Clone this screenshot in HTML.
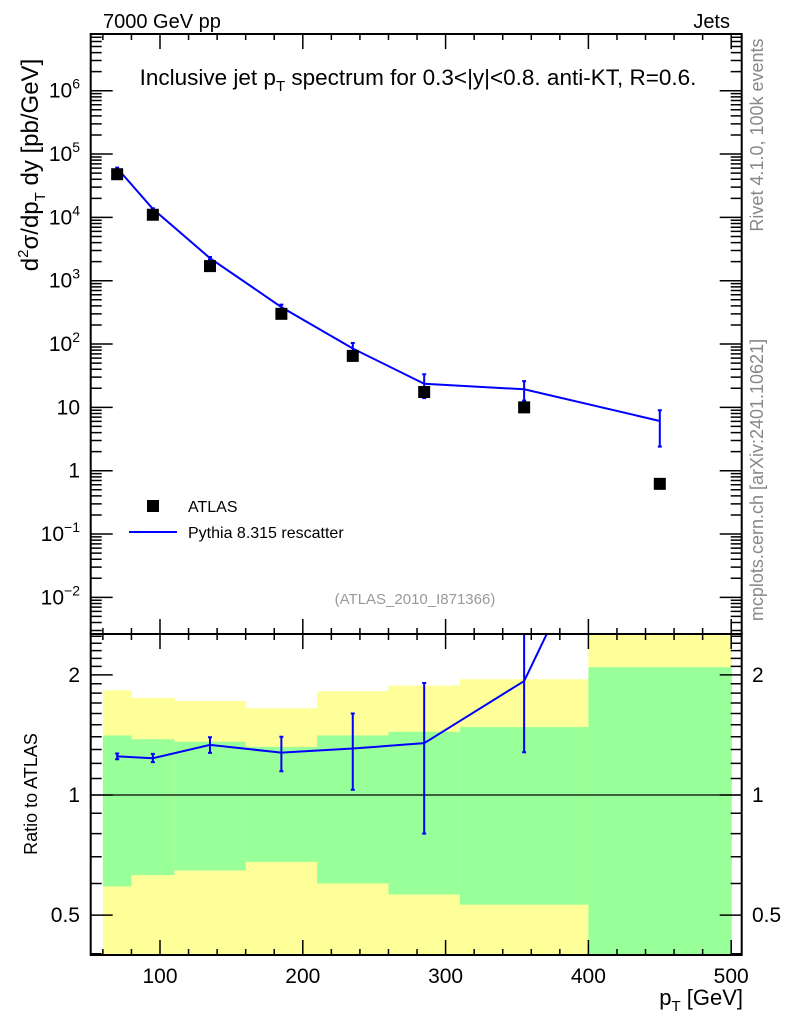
<!DOCTYPE html>
<html><head><meta charset="utf-8"><style>
body{margin:0;background:#fff}
svg{display:block;font-family:"Liberation Sans",Arial,sans-serif}
</style></head><body>
<svg id="c" width="786" height="1024" viewBox="0 0 786 1024" xmlns="http://www.w3.org/2000/svg" xml:space="preserve">
<g id="bands"></g>
<g id="marks"></g>
<g id="axes"></g>
<text x="103" y="28" font-size="20">7000 GeV pp</text>
<text x="730" y="28" font-size="20" text-anchor="end">Jets</text>
<text x="418" y="85" font-size="22.5" text-anchor="middle">Inclusive jet p<tspan font-size="15" dy="6">T</tspan><tspan dy="-6"> spectrum for 0.3&lt;|y|&lt;0.8.  anti-KT, R=0.6.</tspan></text>
<text transform="translate(763,135) rotate(-90)" font-size="18" fill="#888" text-anchor="middle">Rivet 4.1.0,  100k events</text>
<text transform="translate(763,480) rotate(-90)" font-size="18" fill="#888" text-anchor="middle">mcplots.cern.ch [arXiv:2401.10621]</text>
<text x="415" y="604" font-size="15" fill="#999" text-anchor="middle">(ATLAS_2010_I871366)</text>
<text transform="translate(38,165) rotate(-90)" font-size="24" text-anchor="middle">d<tspan font-size="15" dy="-10">2</tspan><tspan dy="10">σ/dp</tspan><tspan font-size="15" dy="7">T</tspan><tspan dy="-7"> dy [pb/GeV]</tspan></text>
<text transform="translate(37,794) rotate(-90)" font-size="18" text-anchor="middle">Ratio to ATLAS</text>
<text x="743" y="1005" font-size="22" text-anchor="end">p<tspan font-size="15" dy="6">T</tspan><tspan dy="-6"> [GeV]</tspan></text>
<g>
<rect x="147" y="500" width="12" height="12" fill="#000"/>
<text x="188" y="512" font-size="16">ATLAS</text>
<line x1="129" y1="532" x2="177" y2="532" stroke="#00f" stroke-width="2"/>
<text x="188" y="538" font-size="16">Pythia 8.315 rescatter</text>
</g>
</svg>
<script>
const binCenters=[70,95,135,185,235,285,355,450];
const atlas=[4.8e4,1.1e4,1.7e3,300,65,17.5,10,0.62];
const pythia=[6.0e4,1.36e4,2.27e3,383,85,23.6,19.3,6.1];
const pythiaLo=[5.9e4,1.33e4,2168,344,67,14,12.8,2.4];
const pythiaHi=[6.1e4,1.395e4,2372,420,104,33.4,26,9];
const bandEdges=[60,80,110,160,210,260,310,400,500];
const yellowHi=[1.83,1.75,1.72,1.65,1.82,1.88,1.95,3.0];
const greenHi=[1.41,1.38,1.36,1.32,1.41,1.44,1.48,2.09];
const greenLo=[0.59,0.63,0.647,0.68,0.60,0.563,0.531,0.3];
const yellowLo=[0.3,0.3,0.3,0.3,0.3,0.3,0.3,0.3];
const xTicks=[100,200,300,400,500];
const mainYTicks=[-2,-1,0,1,2,3,4,5,6];
const ratioTicks=[0.5,1,2];

const NS="http://www.w3.org/2000/svg";
const L=90.7,R=741.7,T=34,MB=634,RB=955;
const X=v=>160+(v-100)*1.428;
const Y=v=>470.7-63.33*Math.log10(v);
const RY=r=>Math.min(RB,Math.max(MB,795-399*Math.log10(r)));
function mk(p,tag,a){const e=document.createElementNS(NS,tag);for(const k in a)e.setAttribute(k,a[k]);p.appendChild(e);return e;}
const bands=document.getElementById('bands'),marks=document.getElementById('marks'),axes=document.getElementById('axes');

for(let i=0;i<bandEdges.length-1;i++){
  const x1=X(bandEdges[i]),x2=X(bandEdges[i+1]);
  let r=mk(bands,'rect',{x:x1,y:RY(yellowHi[i]),width:x2-x1+0.5,height:RY(yellowLo[i])-RY(yellowHi[i]),fill:'#ffff99'});
  
  
  r=mk(bands,'rect',{x:x1,y:RY(greenHi[i]),width:x2-x1+0.5,height:RY(greenLo[i])-RY(greenHi[i]),fill:'#99ff99'});
  
  
}
let ref=mk(marks,'line',{x1:L,x2:R,y1:RY(1),y2:RY(1),stroke:'#000','stroke-width':1.3});



let pts=binCenters.map((c,i)=>X(c)+','+Y(pythia[i])).join(' ');
let pl=mk(marks,'polyline',{points:pts,fill:'none',stroke:'#00f','stroke-width':2});


binCenters.forEach((c,i)=>{
  const x=X(c);
  let e=mk(marks,'path',{d:`M${x},${Y(pythiaLo[i])}V${Y(pythiaHi[i])}M${x-2},${Y(pythiaLo[i])}h4M${x-2},${Y(pythiaHi[i])}h4`,stroke:'#00f','stroke-width':2,fill:'none'});
  
  
  let s=mk(marks,'rect',{x:x-6,y:Y(atlas[i])-6,width:12,height:12,fill:'#000'});
  
  
});
const clip=mk(marks,'clipPath',{id:'rc'});mk(clip,'rect',{x:L,y:MB,width:R-L,height:RB-MB});
const rg=mk(marks,'g',{'clip-path':'url(#rc)'});
const RYu=r=>795-399*Math.log10(r);
let rp=binCenters.map((c,i)=>X(c)+','+RYu(pythia[i]/atlas[i])).join(' ');
let rl=mk(rg,'polyline',{points:rp,fill:'none',stroke:'#00f','stroke-width':2});


binCenters.forEach((c,i)=>{
  const x=X(c),a=RYu(pythiaLo[i]/atlas[i]),b=RYu(pythiaHi[i]/atlas[i]);
  let e=mk(rg,'path',{d:`M${x},${a}V${b}M${x-2},${a}h4M${x-2},${b}h4`,stroke:'#00f','stroke-width':2,fill:'none'});
  
  
});

[[T,MB],[MB,RB]].forEach(([t,b])=>{
  let f=mk(axes,'rect',{x:L,y:t,width:R-L,height:b-t,fill:'none',stroke:'#000','stroke-width':2});
  
  
});
let d='';
for(let v=60;v<=500;v+=20){const x=X(v),maj=v%100==0,len=maj?15:6;
  d+=`M${x},${MB}v${-len}M${x},${T}v${len}M${x},${RB}v${-len}M${x},${MB}v${len}`;}
for(let e=-3;e<=6;e++){for(let m=1;m<10;m++){const v=m*Math.pow(10,e),y=Y(v);if(y<T||y>MB)continue;const len=m==1?22:11;
  d+=`M${L},${y}h${len}M${R},${y}h${-len}`;}}
for(let k=0;k<30;k++){const r=0.4+k*0.1;const y=RY(r);if(y<=MB||y>=RB)continue;const maj=[0.5,1,2].some(q=>Math.abs(q-r)<1e-6);const len=maj?22:11;
  d+=`M${L},${y}h${len}M${R},${y}h${-len}`;}
let tk=mk(axes,'path',{d:d,stroke:'#000','stroke-width':1.5,fill:'none'});


xTicks.forEach(v=>{let t=mk(axes,'text',{x:X(v),y:983,'font-size':21,'text-anchor':'middle'});t.textContent=v;
  
  });
mainYTicks.forEach(e=>{const y=Y(Math.pow(10,e))+7;let t=mk(axes,'text',{x:80,y:y,'font-size':21,'text-anchor':'end'});
  if(e==0)t.textContent='1';else if(e==1)t.textContent='10';else{t.textContent='10';const s=mk(t,'tspan',{'font-size':14,dy:-9});s.textContent=e<0?'\u2212'+(-e):e;}
  
  });
ratioTicks.forEach(r=>{[[80,'end'],[752,'start']].forEach(([x,a])=>{let t=mk(axes,'text',{x:x,y:RY(r)+7,'font-size':21,'text-anchor':a});t.textContent=r;
  
  });});
</script>
</body></html>
